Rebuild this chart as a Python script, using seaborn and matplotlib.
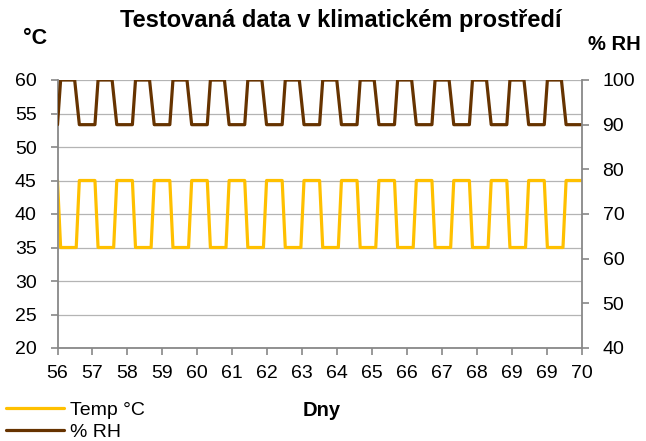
import matplotlib
matplotlib.use('Agg')
import matplotlib.pyplot as plt
import seaborn as sns
import pandas as pd
import numpy as np

# one cycle per day, vertices (hour of day -> value)
days = [56, 57, 58, 59, 60, 61, 62, 63, 64, 65, 66, 67, 68, 69]
temp_hours = [0, 2, 12, 14]
temp_vals = [45, 35, 35, 45]
rh_hours = [0, 2, 11, 14]
rh_vals = [90, 100, 100, 90]
end_day = 70
end_temp = 45
end_rh = 90

x_labels = ['56', '57', '58', '59', '60', '61', '62', '63', '64', '65',
            '66', '67', '68', '69', '69', '70']

t_x, t_y, r_x, r_y = [], [], [], []
for d in days:
    for h, v in zip(temp_hours, temp_vals):
        t_x.append(d + h / 24)
        t_y.append(v)
    for h, v in zip(rh_hours, rh_vals):
        r_x.append(d + h / 24)
        r_y.append(v)
t_x.append(end_day); t_y.append(end_temp)
r_x.append(end_day); r_y.append(end_rh)

temp_df = pd.DataFrame({'den': t_x, 'temp': t_y})
rh_df = pd.DataFrame({'den': r_x, 'rh': r_y})

sns.set_theme(style='white')
plt.rcParams['font.family'] = ['Liberation Sans', 'DejaVu Sans']
plt.rcParams['text.color'] = 'black'

W, H = 646, 441
fig = plt.figure(figsize=(W / 100, H / 100), dpi=100)
ax = fig.add_axes([57.5 / W, 1 - 348 / H, (581.7 - 57.5) / W, (348 - 80) / H])
ax2 = ax.twinx()

temp_col = '#FFC000'
rh_col = '#663300'
grey = '#888888'

sns.lineplot(data=temp_df, x='den', y='temp', ax=ax, color=temp_col,
             linewidth=2.3, label='Temp °C', legend=False, estimator=None, sort=False)
sns.lineplot(data=rh_df, x='den', y='rh', ax=ax2, color=rh_col,
             linewidth=2.3, label='% RH', legend=False, estimator=None, sort=False)

ax.set_xlim(56, 70)
ax.set_ylim(20, 60)
ax2.set_ylim(40, 100)
ax.set_yticks(range(20, 61, 5))
ax2.set_yticks(range(40, 101, 10))
ax.set_xticks(np.linspace(56, 70, len(x_labels)))
ax.set_xticklabels(x_labels)

ax.yaxis.grid(True, color='#b4b4b4', linewidth=0.9)
ax.set_axisbelow(True)
ax.set_xlabel('')
ax.set_ylabel('')
ax2.set_ylabel('')

for a in (ax, ax2):
    for s in a.spines.values():
        s.set_visible(False)
ax.spines['left'].set_visible(True)
ax.spines['bottom'].set_visible(True)
ax2.spines['right'].set_visible(True)
for s in (ax.spines['left'], ax.spines['bottom'], ax2.spines['right']):
    s.set_color(grey)
    s.set_linewidth(1.3)

ax.tick_params(axis='both', which='major', labelsize=14, color=grey, length=5,
               width=1.2, direction='out', left=True, bottom=True, labelcolor='black')
ax.tick_params(axis='y', pad=10)
ax.tick_params(axis='x', pad=7)
ax2.tick_params(axis='y', labelsize=14, color=grey, length=5, width=1.2,
                direction='out', right=True, pad=10, labelcolor='black')

fig.text(341 / W, 1 - 21 / H, 'Testovaná data v klimatickém prostředí',
         ha='center', va='center', fontsize=17, fontweight='bold')
fig.text(35 / W, 1 - 39 / H, '°C', ha='center', va='center', fontsize=15.5, fontweight='bold')
fig.text(614 / W, 1 - 44 / H, '% RH', ha='center', va='center', fontsize=14.5, fontweight='bold')
fig.text(322 / W, 1 - 411 / H, 'Dny', ha='center', va='center', fontsize=14.5, fontweight='bold')

h1, l1 = ax.get_legend_handles_labels()
h2, l2 = ax2.get_legend_handles_labels()
fig.legend(h1 + h2, l1 + l2, loc='upper left', bbox_to_anchor=(6 / W, 1 - 401 / H),
           frameon=False, fontsize=14, handlelength=3.0, handletextpad=0.3,
           labelspacing=0.25, borderpad=0.0, borderaxespad=0.0)

fig.savefig('out.png', dpi=100)
